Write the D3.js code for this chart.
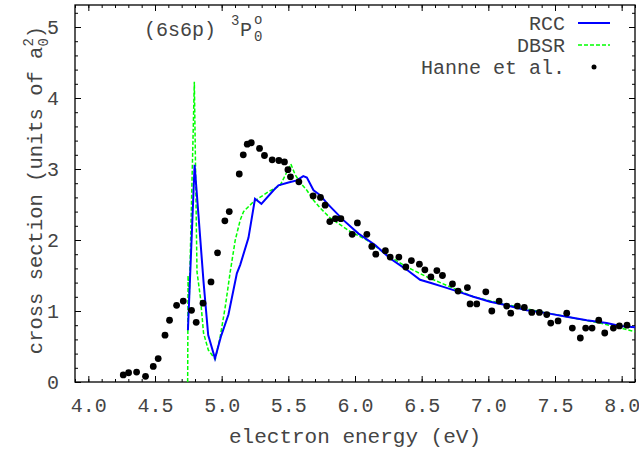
<!DOCTYPE html>
<html>
<head>
<meta charset="utf-8">
<script src="https://cdn.jsdelivr.net/npm/d3@7"></script>
<style>
  body { margin: 0; background: #fff; }
  text { font-family: "Liberation Mono", "Courier New", monospace; fill: #444; }
</style>
</head>
<body>
<div id="chart"></div>
<script>
// Hanne et al. measurements
var hanneE = [4.262, 4.302, 4.362, 4.429, 4.487, 4.524, 4.575, 4.609, 4.662, 4.712, 4.774, 4.809, 4.860, 4.920, 4.969, 5.024, 5.057, 5.132, 5.162, 5.192, 5.222, 5.284, 5.321, 5.379, 5.429, 5.471, 5.497, 5.516, 5.579, 5.686, 5.741, 5.776, 5.811, 5.853, 5.894, 5.979, 6.018, 6.089, 6.126, 6.156, 6.228, 6.264, 6.329, 6.381, 6.423, 6.483, 6.524, 6.569, 6.614, 6.656, 6.731, 6.773, 6.843, 6.863, 6.913, 6.981, 7.026, 7.081, 7.138, 7.168, 7.218, 7.270, 7.326, 7.383, 7.438, 7.468, 7.523, 7.588, 7.630, 7.690, 7.730, 7.778, 7.828, 7.873, 7.938, 7.983, 8.040];
var hanneY = [0.10, 0.13, 0.14, 0.08, 0.22, 0.33, 0.66, 0.87, 1.08, 1.14, 1.01, 0.84, 1.11, 1.41, 1.82, 2.27, 2.40, 2.93, 3.20, 3.35, 3.37, 3.29, 3.19, 3.13, 3.12, 3.10, 2.99, 2.89, 2.82, 2.62, 2.60, 2.49, 2.26, 2.30, 2.30, 2.08, 2.24, 2.08, 1.91, 1.80, 1.85, 1.76, 1.76, 1.62, 1.71, 1.66, 1.58, 1.48, 1.57, 1.50, 1.38, 1.28, 1.33, 1.10, 1.10, 1.27, 1.00, 1.14, 1.07, 0.97, 1.07, 1.05, 0.98, 0.98, 0.95, 0.83, 0.86, 0.97, 0.76, 0.62, 0.76, 0.76, 0.87, 0.69, 0.76, 0.79, 0.80];

// RCC
var rccE = [4.747, 4.797, 4.824, 4.864, 4.899, 4.950, 4.996, 5.051, 5.114, 5.139, 5.201, 5.250, 5.298, 5.389, 5.426, 5.501, 5.564, 5.612, 5.639, 5.689, 5.739, 5.789, 5.913, 6.026, 6.151, 6.264, 6.389, 6.488, 6.576, 6.663, 6.763, 6.888, 7.013, 7.138, 7.288, 7.438, 7.588, 7.738, 7.888, 7.988, 8.100];
var rccY = [0.73, 3.06, 2.40, 1.41, 0.66, 0.33, 0.65, 0.95, 1.53, 1.65, 2.03, 2.58, 2.51, 2.70, 2.77, 2.81, 2.84, 2.90, 2.88, 2.70, 2.63, 2.52, 2.28, 2.09, 1.93, 1.74, 1.58, 1.44, 1.39, 1.34, 1.28, 1.20, 1.13, 1.08, 1.01, 0.97, 0.92, 0.87, 0.83, 0.79, 0.77];

// DBSR
var dbsrE = [4.745, 4.748, 4.756, 4.795, 4.815, 4.840, 4.864, 4.900, 4.952, 4.989, 5.027, 5.064, 5.102, 5.139, 5.164, 5.239, 5.351, 5.439, 5.519, 5.551, 5.589, 5.639, 5.689, 5.739, 5.814, 5.964, 6.089, 6.239, 6.389, 6.539, 6.713, 6.888, 7.088, 7.338, 7.588, 7.838, 8.100];
var dbsrY = [0.00, 1.50, 1.10, 4.23, 1.55, 1.20, 0.69, 0.45, 0.32, 0.64, 1.06, 1.55, 2.00, 2.28, 2.40, 2.54, 2.68, 2.77, 3.07, 2.92, 2.81, 2.70, 2.56, 2.45, 2.31, 2.12, 2.00, 1.79, 1.62, 1.48, 1.34, 1.20, 1.11, 1.01, 0.92, 0.83, 0.71];

var xMajor = [4.0, 4.5, 5.0, 5.5, 6.0, 6.5, 7.0, 7.5, 8.0];
var yMajor = [0, 1, 2, 3, 4, 5];

var margin = { top: 5, right: 4, bottom: 68, left: 75 };
var width = 639 - margin.left - margin.right;
var height = 450 - margin.top - margin.bottom;

var svg = d3.select("#chart").append("svg")
    .attr("width", 639)
    .attr("height", 450);

var g = svg.append("g")
    .attr("transform", "translate(" + margin.left + "," + margin.top + ")");

var x = d3.scaleLinear().domain([3.9, 8.1]).range([0, width]);
var y = d3.scaleLinear().domain([0, 5.31]).range([height, 0]);

var xMinor = d3.range(39, 82).map(function(d){ return d / 10; });
var yMinor = d3.range(0, 27).map(function(d){ return d / 5; });

function styleAxis(sel) {
    sel.select(".domain").remove();
    sel.selectAll("line").attr("stroke", "#000").attr("stroke-width", 1);
    sel.selectAll("text").style("font-size", "20px").attr("fill", "#444");
}

// minor ticks, all four sides
g.append("g").attr("transform", "translate(0," + height + ")")
    .call(d3.axisBottom(x).tickValues(xMinor).tickSize(-3).tickFormat(""))
    .call(styleAxis);
g.append("g")
    .call(d3.axisTop(x).tickValues(xMinor).tickSize(-3).tickFormat(""))
    .call(styleAxis);
g.append("g")
    .call(d3.axisLeft(y).tickValues(yMinor).tickSize(-3).tickFormat(""))
    .call(styleAxis);
g.append("g").attr("transform", "translate(" + width + ",0)")
    .call(d3.axisRight(y).tickValues(yMinor).tickSize(-3).tickFormat(""))
    .call(styleAxis);

// major ticks
g.append("g").attr("transform", "translate(0," + height + ")")
    .call(d3.axisBottom(x).tickValues(xMajor).tickSize(-6).tickPadding(16).tickFormat(d3.format(".1f")))
    .call(styleAxis);
g.append("g")
    .call(d3.axisTop(x).tickValues(xMajor).tickSize(-6).tickFormat(""))
    .call(styleAxis);
g.append("g")
    .call(d3.axisLeft(y).tickValues(yMajor).tickSize(-6).tickPadding(16).tickFormat(d3.format("d")))
    .call(styleAxis);
g.append("g").attr("transform", "translate(" + width + ",0)")
    .call(d3.axisRight(y).tickValues(yMajor).tickSize(-6).tickFormat(""))
    .call(styleAxis);

g.append("rect")
    .attr("width", width).attr("height", height)
    .attr("fill", "none").attr("stroke", "#000").attr("stroke-width", 1.3);

g.append("clipPath").attr("id", "clip")
    .append("rect").attr("width", width).attr("height", height);

var line = d3.line()
    .x(function(d){ return x(d[0]); })
    .y(function(d){ return y(d[1]); });

var plot = g.append("g").attr("clip-path", "url(#clip)");

plot.append("path")
    .datum(dbsrE.map(function(e, i){ return [e, dbsrY[i]]; }))
    .attr("d", line)
    .attr("fill", "none")
    .attr("stroke", "#00ff00")
    .attr("stroke-width", 1.5)
    .attr("stroke-dasharray", "4,2");

plot.append("path")
    .datum(rccE.map(function(e, i){ return [e, rccY[i]]; }))
    .attr("d", line)
    .attr("fill", "none")
    .attr("stroke", "#0000ff")
    .attr("stroke-width", 2);

plot.selectAll(".dot")
    .data(hanneE.map(function(e, i){ return [e, hanneY[i]]; }))
    .enter().append("circle")
    .attr("class", "dot")
    .attr("cx", function(d){ return x(d[0]); })
    .attr("cy", function(d){ return y(d[1]); })
    .attr("r", 3.4)
    .attr("fill", "#000");

// legend
var legend = [
    { label: "RCC", type: "rcc" },
    { label: "DBSR", type: "dbsr" },
    { label: "Hanne et al.", type: "dot" }
];
var lg = g.selectAll(".legend").data(legend).enter().append("g")
    .attr("class", "legend")
    .attr("transform", function(d, i){ return "translate(0," + (18 + i * 22) + ")"; });
lg.append("text")
    .attr("x", 490).attr("dy", "0.35em")
    .attr("text-anchor", "end")
    .style("font-size", "20px")
    .text(function(d){ return d.label; });
lg.filter(function(d){ return d.type !== "dot"; }).append("line")
    .attr("x1", 503).attr("x2", 535)
    .attr("stroke", function(d){ return d.type === "rcc" ? "#0000ff" : "#00ff00"; })
    .attr("stroke-width", function(d){ return d.type === "rcc" ? 2 : 1.5; })
    .attr("stroke-dasharray", function(d){ return d.type === "rcc" ? null : "4,2"; });
lg.filter(function(d){ return d.type === "dot"; }).append("circle")
    .attr("cx", 519).attr("r", 2.5).attr("fill", "#000");

// state label
var t = svg.append("g");
t.append("text").attr("x", 144).attr("y", 36).style("font-size", "20px").text("(6s6p)");
t.append("text").attr("x", 231).attr("y", 25).style("font-size", "14px").text("3");
t.append("text").attr("x", 240).attr("y", 36).style("font-size", "20px").text("P");
t.append("text").attr("x", 254).attr("y", 24).style("font-size", "14px").text("o");
t.append("text").attr("x", 254).attr("y", 41).style("font-size", "14px").text("0");

// axis titles
svg.append("text")
    .attr("x", margin.left + x(6.0)).attr("y", 443)
    .attr("text-anchor", "middle")
    .style("font-size", "21px")
    .text("electron energy (eV)");

var yl = svg.append("text")
    .attr("transform", "translate(42,190) rotate(-90)")
    .attr("text-anchor", "middle")
    .style("font-size", "20.5px");
yl.append("tspan").text("cross section (units of a");
yl.append("tspan").attr("dy", -9).style("font-size", "14px").text("2");
yl.append("tspan").attr("dx", -8.4).attr("dy", 15).style("font-size", "14px").text("0");
yl.append("tspan").attr("dy", -6).text(")");
</script>
</body>
</html>
